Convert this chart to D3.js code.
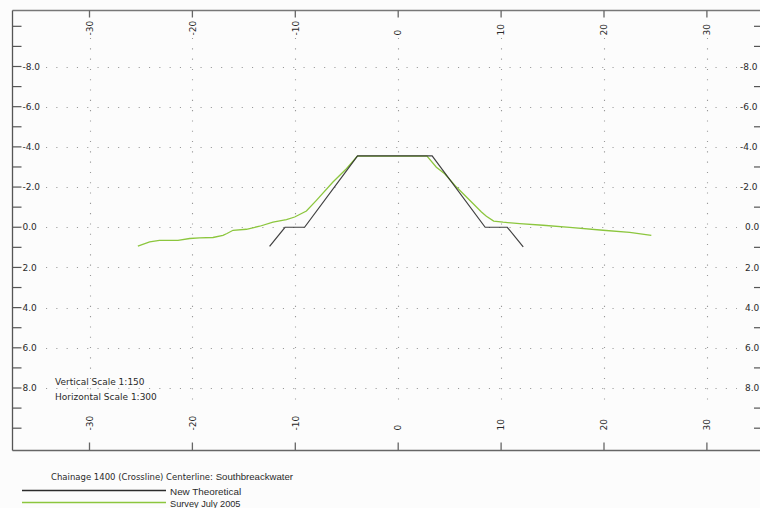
<!DOCTYPE html>
<html>
<head>
<meta charset="utf-8">
<script src="https://cdn.jsdelivr.net/npm/d3@7"></script>
<style>
  html, body { margin: 0; padding: 0; background: #fcfcfc; }
  svg { display: block; }
  text { font-family: "DejaVu Sans", Verdana, sans-serif; fill: #2a2a2a; }
</style>
</head>
<body>
<svg id="chart" width="760" height="508"></svg>
<script>
// ---- data ----
const xTickValues = [-30, -20, -10, 0, 10, 20, 30];
const xTickLabels = ["-30", "-20", "-10", "0", "10", "20", "30"];
const yMajorValues = [-8, -6, -4, -2, 0, 2, 4, 6, 8];
const yMajorLabels = ["-8.0", "-6.0", "-4.0", "-2.0", "0.0", "2.0", "4.0", "6.0", "8.0"];
const yMinorValues = [-10, -9, -7, -5, -3, -1, 1, 3, 5, 7, 9, 10];

const theoreticalX = [-12.5, -11.0, -9.1, -3.95, 3.3, 8.45, 10.6, 12.15];
const theoreticalY = [0.95, 0.0, 0.0, -3.55, -3.55, 0.0, 0.0, 0.98];

const surveyX = [-25.3, -24.15, -23.2, -21.4, -20.26, -19.3, -18.0, -17.03, -16.64, -16.05, -14.75,
  -13.46, -12.17, -10.86, -10.06, -8.92, -7.95, -6.34, -5.03, -3.97, 2.8, 3.71, 4.52, 5.66, 6.95,
  8.09, 8.57, 9.28, 10.19, 11.81, 14.07, 16.67, 19.9, 22.5, 24.6];
const surveyY = [0.94, 0.73, 0.65, 0.65, 0.56, 0.53, 0.51, 0.40, 0.31, 0.15, 0.10,
  -0.05, -0.26, -0.38, -0.51, -0.81, -1.34, -2.25, -2.91, -3.54, -3.54, -2.99, -2.66, -2.0, -1.34,
  -0.76, -0.55, -0.31, -0.25, -0.18, -0.10, 0.01, 0.15, 0.26, 0.40];

const seriesNames = ["New Theoretical", "Survey July 2005"];
const seriesColors = ["#2b2b2b", "#8cc63e"];
const titleText = "Chainage 1400 (Crossline) Centerline: ";
const titleName = "Southbreackwater";
const scaleNotes = ["Vertical Scale 1:150", "Horizontal Scale 1:300"];

// ---- layout ----
const svg = d3.select("#chart");
const frameL = 12.5, frameT = 10.5, frameB = 450.5, frameR = 770;
const x = d3.scaleLinear().domain([-30, 20]).range([89.5, 604]);
const y = d3.scaleLinear().domain([-8, 8]).range([66.5, 388]);

// frame
const frame = svg.append("g");
frame.append("line").attr("x1", frameL).attr("x2", frameR).attr("y1", frameT).attr("y2", frameT)
  .attr("stroke", "#777").attr("stroke-width", 1.3);
frame.append("line").attr("x1", frameL).attr("x2", frameR).attr("y1", frameB).attr("y2", frameB)
  .attr("stroke", "#666").attr("stroke-width", 1.5);
frame.append("line").attr("x1", frameL).attr("x2", frameL).attr("y1", frameT).attr("y2", frameB)
  .attr("stroke", "#555").attr("stroke-width", 1.3);

// dotted grid
const grid = svg.append("g").attr("stroke", "#999").attr("stroke-width", 1.1)
  .attr("stroke-dasharray", "1.1,9.2");
grid.selectAll("line.h").data(yMajorValues).join("line").attr("class", "h")
  .attr("x1", 46).attr("x2", 737)
  .attr("y1", d => Math.round(y(d)) + 0.5).attr("y2", d => Math.round(y(d)) + 0.5);
grid.selectAll("line.v").data(xTickValues).join("line").attr("class", "v")
  .attr("x1", d => Math.round(x(d)) + 0.5).attr("x2", d => Math.round(x(d)) + 0.5)
  .attr("y1", 38).attr("y2", 406);

// top & bottom x ticks
const xt = svg.append("g").attr("stroke", "#666").attr("stroke-width", 1.3);
xt.selectAll("line.t").data(xTickValues).join("line").attr("class", "t")
  .attr("x1", d => x(d)).attr("x2", d => x(d)).attr("y1", frameT).attr("y2", frameT + 7);
xt.selectAll("line.b").data(xTickValues).join("line").attr("class", "b")
  .attr("x1", d => x(d)).attr("x2", d => x(d)).attr("y1", frameB).attr("y2", frameB - 8);

const xl = svg.append("g").style("font-size", "9px");
[35.5, 430.5].forEach(base => {
  xl.append("g").selectAll("text").data(xTickValues).join("text")
    .attr("transform", d => `translate(${x(d) + 3.2},${base}) rotate(-90)`)
    .attr("text-anchor", "start")
    .text((d, i) => xTickLabels[i]);
});

// left y ticks
const yt = svg.append("g").attr("stroke", "#555").attr("stroke-width", 1.2);
yt.selectAll("line.maj").data(yMajorValues).join("line").attr("class", "maj")
  .attr("x1", frameL).attr("x2", frameL + 9)
  .attr("y1", d => y(d)).attr("y2", d => y(d));
yt.selectAll("line.min").data(yMinorValues).join("line").attr("class", "min")
  .attr("x1", frameL).attr("x2", frameL + 9)
  .attr("y1", d => y(d)).attr("y2", d => y(d));
// right minor ticks
yt.selectAll("line.rmin").data(yMinorValues).join("line").attr("class", "rmin")
  .attr("x1", 754).attr("x2", 766)
  .attr("y1", d => y(d)).attr("y2", d => y(d));

const yl = svg.append("g").style("font-size", "9px");
yl.selectAll("text.l").data(yMajorValues).join("text").attr("class", "l")
  .attr("x", 22.5).attr("y", d => y(d)).attr("dy", "0.35em")
  .text((d, i) => yMajorLabels[i]);
yl.selectAll("text.r").data(yMajorValues).join("text").attr("class", "r")
  .attr("x", d => d < 0 ? 740 : 745).attr("y", d => y(d)).attr("dy", "0.35em")
  .text((d, i) => yMajorLabels[i]);

// scale notes
svg.append("g").style("font-size", "9px").selectAll("text").data(scaleNotes).join("text")
  .attr("x", 55).attr("y", (d, i) => 385 + i * 14.5).text(d => d);

// series
const line = d3.line().x(d => x(d[0])).y(d => y(d[1]));
const survey = surveyX.map((v, i) => [v, surveyY[i]]);
const theo = theoreticalX.map((v, i) => [v, theoreticalY[i]]);
svg.append("path").datum(survey).attr("d", line).attr("fill", "none")
  .attr("stroke", seriesColors[1]).attr("stroke-width", 1.3);
svg.append("path").datum(theo).attr("d", line).attr("fill", "none")
  .attr("stroke", seriesColors[0]).attr("stroke-width", 1.2).attr("stroke-opacity", 0.9);

// legend
const lg = svg.append("g");
const t = lg.append("text").attr("x", 51).attr("y", 479.5)
  .style("font-size", "8.5px");
t.append("tspan").text(titleText);
t.append("tspan").style("font-family", "'Liberation Sans', Arial, sans-serif").style("font-size", "9.6px").text(titleName);
seriesNames.forEach((name, i) => {
  const ly = [490.5, 502.5][i];
  lg.append("line").attr("x1", 22).attr("x2", 166).attr("y1", ly).attr("y2", ly)
    .attr("stroke", seriesColors[i]).attr("stroke-width", 1.3);
  lg.append("text").attr("x", 170).attr("y", ly + 4)
    .style("font-family", "'Liberation Sans', Arial, sans-serif")
    .style("font-size", i === 0 ? "9.9px" : "9.2px").text(name);
});
</script>
</body>
</html>
